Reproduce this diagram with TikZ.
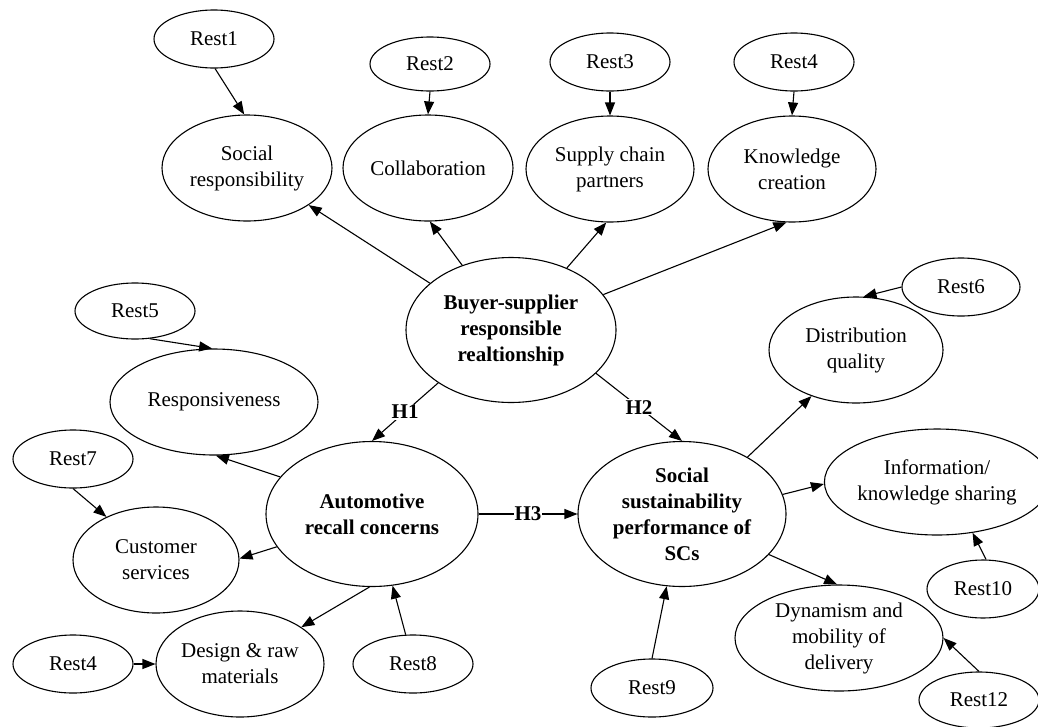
\documentclass[tikz,border=0pt]{standalone}
\usepackage{fontspec}
\setmainfont{Liberation Serif}
\usetikzlibrary{shapes.geometric,arrows.meta}
\begin{document}
\begin{tikzpicture}[x=1pt,y=-1pt,
  ell/.style={ellipse,draw,line width=1.1pt,inner sep=0pt,align=center,
    font=\fontsize{21}{26}\selectfont},
  rest/.style={ell,minimum width=120pt,minimum height=58pt},
  mid/.style={ell,minimum width=168pt,minimum height=106pt},
  big/.style={ell,minimum width=210pt,minimum height=145pt,
    font=\bfseries\fontsize{21}{26}\selectfont},
  arr/.style={line width=1.1pt,-{Triangle[length=13pt,width=10pt]}},
  hl/.style={fill=white,inner sep=1pt,font=\bfseries\fontsize{21}{26}\selectfont}
]
\useasboundingbox (0,0) rectangle (1038,726);
% top row
\node[rest] (R1) at (214,39) {Rest1};
\node[rest,minimum height=54pt] (R2) at (430,64) {Rest2};
\node[rest] (R3) at (610,62) {Rest3};
\node[rest] (R4) at (794,62) {Rest4};
\node[mid,minimum width=170pt] (SR) at (247,168) {Social\\responsibility};
\node[mid,minimum width=170pt] (CO) at (428,168) {Collaboration};
\node[mid] (SC) at (610,169) {Supply chain\\partners};
\node[mid] (KC) at (792,169) {Knowledge\\creation};
% centre
\node[big] (BS) at (511,330) {Buyer-supplier\\responsible\\realtionship};
\node[big,minimum width=212pt] (ARC) at (372,514) {Automotive\\recall concerns};
\node[big,minimum width=208pt] (SSP) at (682,514) {Social\\sustainability\\performance of\\SCs};
% left
\node[rest,minimum height=56pt] (R5) at (135,311) {Rest5};
\node[mid,minimum width=208pt] (RE) at (214,402) {Responsiveness};
\node[rest] (R7) at (73,459) {Rest7};
\node[mid,minimum width=166pt] (CS) at (156,560) {Customer\\services};
\node[mid] (DR) at (240,664) {Design \& raw\\materials};
\node[rest] (R4b) at (73,664) {Rest4};
\node[rest] (R8) at (413,664) {Rest8};
% right
\node[rest,minimum width=118pt] (R6) at (961,287) {Rest6};
\node[mid,minimum width=174pt] (DQ) at (856,350) {Distribution\\quality};
\node[mid,minimum width=198pt] (IK) at (937,482) {Information/\\knowledge sharing};
\node[rest,minimum width=112pt] (R10) at (983,589) {Rest10};
\node[mid,minimum width=208pt] (DY) at (839,638) {Dynamism and\\mobility of\\delivery};
\node[rest,minimum width=122pt] (R9) at (652,688) {Rest9};
\node[rest,minimum height=56pt] (R12) at (979,700) {Rest12};
% edges
\draw[arr] (R1.272) -- (SR.93);
\draw[arr] (R2.south) -- (CO.north);
\draw[arr] (R3.south) -- (SC.north);
\draw[arr] (R4.270) -- (KC.90);
\draw[arr] (BS.150) -- (SR.329);
\draw[arr] (BS.127) -- (CO.272);
\draw[arr] (BS.48) -- (SC.266);
\draw[arr] (BS.21.5) -- (KC.264);
\draw[arr] (BS.216) -- node[hl]{H1} (ARC.north);
\draw[arr] (BS.333) -- node[hl]{H2} (SSP.north);
\draw[arr] (ARC.east) -- node[hl]{H3} (SSP.west);
\draw[arr] (R5.298) -- (RE.92);
\draw[arr] (ARC.158) -- (RE.272);
\draw[arr] (ARC.199.5) -- (CS.1);
\draw[arr] (ARC.268) -- (DR.31);
\draw[arr] (R7.south) -- (CS.139);
\draw[arr] (R4b.east) -- (DR.west);
\draw[arr] (R8.104) -- (ARC.286);
\draw[arr] (SSP.41.7) -- (DQ.226);
\draw[arr] (SSP.11.6) -- (IK.181);
\draw[arr] (SSP.335) -- (DY.92);
\draw[arr] (R9.north) -- (SSP.258);
\draw[arr] (R10.84) -- (IK.305);
\draw[arr] (R12.90) -- (DY.0);
\draw[arr] (R6.west) -- (DQ.82);
\end{tikzpicture}
\end{document}
